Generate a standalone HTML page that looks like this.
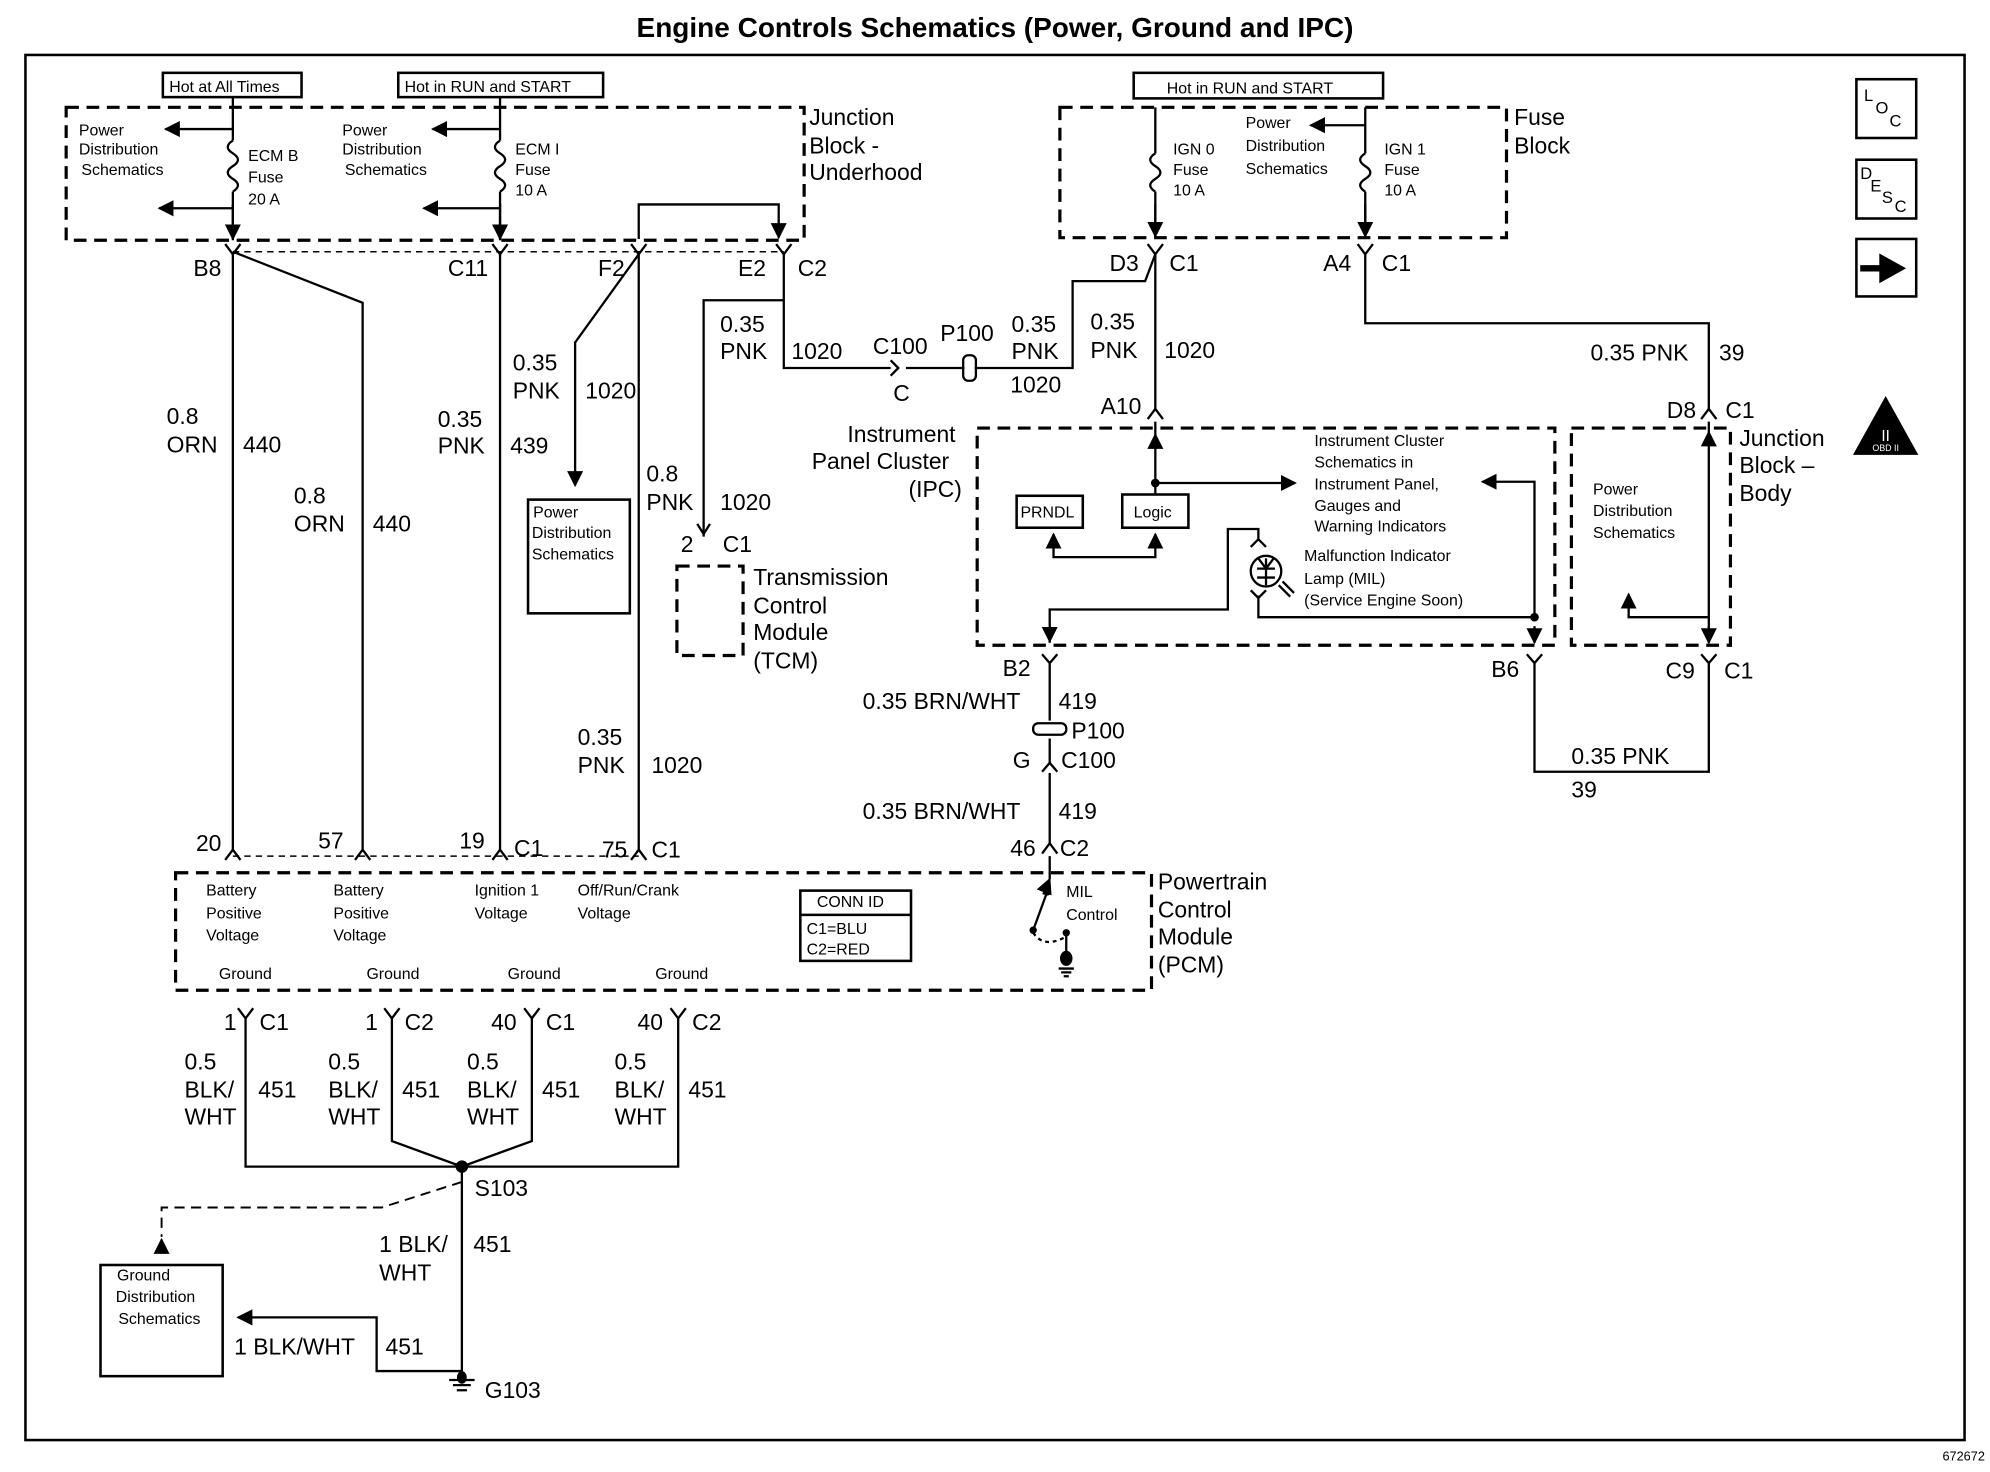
<!DOCTYPE html>
<html><head><meta charset="utf-8"><style>
html,body{margin:0;padding:0;background:#fff}
svg{display:block}
text{font-family:"Liberation Sans",sans-serif;fill:#000}
.b{font-size:18px}
.s{font-size:12.5px}
.t{font-size:13.5px}
</style></head><body>
<svg width="1990" height="1472" viewBox="0 0 1564 1152" preserveAspectRatio="none" xmlns="http://www.w3.org/2000/svg">
<defs>
<marker id="ar" viewBox="0 0 10 10" refX="9" refY="5" markerWidth="7" markerHeight="7" orient="auto-start-reverse"><path d="M0,0 L10,5 L0,10 z" fill="#000"/></marker>
</defs>
<rect width="1564" height="1152" fill="#fff"/>
<text x="782" y="29" text-anchor="middle" font-size="22" font-weight="bold">Engine Controls Schematics (Power, Ground and IPC)</text>
<rect x="20" y="43" width="1524" height="1084" fill="none" stroke="#000" stroke-width="2"/>
<text x="1560" y="1143" text-anchor="end" font-size="10">672672</text>

<g fill="none" stroke="#000" stroke-width="2.5" stroke-dasharray="10,6">
<rect x="52" y="84" width="580" height="104"/>
<rect x="833" y="84" width="351" height="102"/>
<rect x="768" y="335" width="454" height="170"/>
<rect x="1235" y="335" width="125" height="170"/>
<rect x="138" y="683" width="767" height="92"/>
<rect x="532" y="443" width="52" height="70"/>
<path d="M183,197 L616,197" stroke-width="1.2" stroke-dasharray="5,4"/>
<path d="M183,670 L502,670" stroke-width="1.2" stroke-dasharray="5,4"/>
<path d="M363,925 L300,945 L127,945 L127,968" stroke-width="1.5" stroke-dasharray="8,5"/>
</g>

<g fill="none" stroke="#000" stroke-width="2">
<rect x="128" y="57" width="109" height="19"/>
<rect x="313" y="57" width="161" height="19"/>
<rect x="891" y="57" width="196" height="20"/>
<rect x="415" y="391" width="80" height="89"/>
<rect x="79" y="990" width="96" height="87"/>
<rect x="799" y="388" width="52" height="25"/>
<rect x="882" y="387" width="52" height="26"/>
<rect x="629" y="697" width="87" height="55"/>
<path d="M629,716 L716,716"/>
<rect x="1459" y="62" width="47" height="46"/>
<rect x="1459" y="125" width="47" height="46"/>
<rect x="1459" y="187" width="47" height="45"/>
</g>

<!-- wires -->
<g fill="none" stroke="#000" stroke-width="1.8">
<!-- underhood fuses -->
<path d="M183,76 L183,110 M183,150 L183,188"/>
<path d="M183,110 q-8,5 0,10 q8,5 0,10 q-8,5 0,10 q8,5 0,10"/>
<path d="M183,101 L130,101" marker-end="url(#ar)"/>
<path d="M183,163 L125,163" marker-end="url(#ar)"/>
<path d="M393,76 L393,110 M393,150 L393,188"/>
<path d="M393,110 q-8,5 0,10 q8,5 0,10 q-8,5 0,10 q8,5 0,10"/>
<path d="M393,101 L340,101" marker-end="url(#ar)"/>
<path d="M393,163 L333,163" marker-end="url(#ar)"/>
<path d="M183,160 L183,187" marker-end="url(#ar)"/>
<path d="M393,160 L393,187" marker-end="url(#ar)"/>
<path d="M502,187 L502,160 L612,160 L612,186" marker-end="url(#ar)"/>
<!-- fuse block -->
<path d="M908,84 L908,120 M908,150 L908,185 M1073,84 L1073,120 M1073,150 L1073,185"/>
<path d="M908,120 q-8,5 0,10 q8,5 0,10 q-8,5 0,10"/>
<path d="M1073,120 q-8,5 0,10 q8,5 0,10 q-8,5 0,10"/>
<path d="M908,160 L908,185" marker-end="url(#ar)"/>
<path d="M1073,160 L1073,185" marker-end="url(#ar)"/>
<path d="M1073,98 L1030,98" marker-end="url(#ar)"/>
<!-- connector chevrons row -->
<path d="M177,191 L183,199 L189,191 M387,191 L393,199 L399,191 M496,191 L502,199 L508,191 M610,191 L616,199 L622,191 M902,191 L908,199 L914,191 M1067,191 L1073,199 L1079,191"/>
<!-- B8 wires -->
<path d="M183,199 L183,665 M183,197 L285,237 L285,665"/>
<path d="M393,199 L393,665"/>
<path d="M502,199 L502,665"/>
<path d="M502,199 L452,268 L452,380" marker-end="url(#ar)"/>
<path d="M616,199 L616,288 L700,288"/>
<path d="M553,420 L553,235 L616,235"/>
<path d="M548,410 L553,418 L558,410"/>
<!-- C100 P100 -->
<path d="M700,282 L706,288 L700,294"/>
<path d="M712,288 L758,288 M766,288 L843,288 L843,220 L900,220 L908,199"/>
<rect x="757" y="278" width="10" height="20" rx="4"/>
<path d="M908,199 L908,320"/>
<path d="M902,328 L908,320 L914,328 M908,330 L908,345"/>
<path d="M1073,199 L1073,253 L1343,253 L1343,320"/>
<path d="M1337,328 L1343,320 L1349,328"/>
<!-- IPC internals -->
<path d="M908,340 L908,387" marker-start="url(#ar)"/>
<path d="M908,378 L1018,378" marker-end="url(#ar)"/>
<circle cx="908" cy="378" r="2.5" fill="#000"/>
<path d="M828,418 L828,436 L908,436 L908,418" marker-start="url(#ar)" marker-end="url(#ar)"/>
<path d="M1206,483 L1206,377 L1165,377" marker-end="url(#ar)"/>
<path d="M825,503 L825,477 L965,477 L965,414 L989,414 L989,423"/>
<path d="M825,490 L825,502" marker-end="url(#ar)"/>
<path d="M983,428 L989,422 L995,428"/>
<circle cx="995" cy="447" r="12"/>
<path d="M995,437 L995,458 M988,445 L1002,445 M989,437 L995,445 L1001,437 M988,452 L1002,452"/>
<path d="M989,466 L989,483 L1206,483 M983,462 L989,468 L995,462"/>
<path d="M1005,458 L1014,467 M1008,455 L1017,464"/>
<circle cx="1206" cy="483" r="2.5" fill="#000"/>
<path d="M1206,490 L1206,503" marker-end="url(#ar)"/>
<path d="M1343,330 L1343,503"/>
<path d="M1343,345 L1343,338" marker-end="url(#ar)"/>
<path d="M1343,490 L1343,503" marker-end="url(#ar)"/>
<path d="M1343,483 L1280,483 L1280,465" marker-end="url(#ar)"/>
<!-- B2, B6, C9 -->
<path d="M819,512 L825,519 L831,512 M1200,512 L1206,519 L1212,512 M1337,512 L1343,519 L1349,512"/>
<path d="M825,519 L825,564 M825,578 L825,598 M825,605 L825,660"/>
<rect x="812" y="566" width="26" height="9" rx="4"/>
<path d="M819,604 L825,597 L831,604"/>
<path d="M819,668 L825,660 L831,668 M825,670 L825,688"/>
<path d="M1206,519 L1206,604 L1343,604 L1343,519"/>
<!-- PCM top pins -->
<path d="M177,673 L183,665 L189,673 M279,673 L285,665 L291,673 M387,673 L393,665 L399,673 M496,673 L502,665 L508,673"/>
<!-- MIL control -->
<path d="M825,688 L820,700" marker-start="url(#ar)"/>
<path d="M823,698 L812,728"/>
<circle cx="823" cy="698" r="2" fill="#000"/>
<circle cx="812" cy="728" r="2" fill="#000"/>
<path d="M812,730 q8,12 24,4" stroke-dasharray="3,3"/>
<path d="M838,730 L838,755"/>
<circle cx="838" cy="730" r="2" fill="#000"/>
<ellipse cx="838" cy="750" rx="4" ry="5" fill="#000"/>
<path d="M832,758 L844,758 M834,761 L842,761 M836,764 L840,764"/>
<!-- ground pins -->
<path d="M187,789 L193,797 L199,789 M302,789 L308,797 L314,789 M412,789 L418,797 L424,789 M527,789 L533,797 L539,789"/>
<path d="M193,797 L193,913 L533,913 L533,797"/>
<path d="M308,797 L308,893 L363,913 L418,893 L418,797"/>
<circle cx="363" cy="913" r="4" fill="#000"/>
<path d="M363,913 L363,1080"/>
<path d="M353,1080 L373,1080 M356,1084 L370,1084 M359,1088 L367,1088"/>
<ellipse cx="363" cy="1078" rx="3" ry="4" fill="#000"/>
<path d="M363,1073 L296,1073 L296,1031 L187,1031" marker-end="url(#ar)"/>
<path d="M127,978 L127,970" marker-end="url(#ar)"/>
</g>
<g stroke="#000" stroke-width="2"><path d="M1462,210 L1480,210" stroke-width="5"/><path d="M1478,200 L1496,210 L1478,220 z" fill="#000"/>
<path d="M1482,312 L1506,355 L1458,355 z" fill="#000"/></g>
<text x="1482" y="345" font-size="12" text-anchor="middle" style="fill:#fff">II</text>
<text x="1482" y="353" font-size="7" text-anchor="middle" style="fill:#fff">OBD II</text>
<text x="1465" y="79" font-size="13">L</text><text x="1474" y="89" font-size="13">O</text><text x="1485" y="99" font-size="13">C</text>
<text x="1462" y="140" font-size="13">D</text><text x="1470" y="150" font-size="13">E</text><text x="1479" y="159" font-size="13">S</text><text x="1489" y="166" font-size="13">C</text>

<!-- small labels -->
<g class="s">
<text x="133" y="72">Hot at All Times</text>
<text x="318" y="72">Hot in RUN and START</text>
<text x="917" y="73">Hot in RUN and START</text>
<text x="62" y="106">Power</text><text x="62" y="121">Distribution</text><text x="64" y="137">Schematics</text>
<text x="195" y="126">ECM B</text><text x="195" y="143">Fuse</text><text x="195" y="160">20 A</text>
<text x="269" y="106">Power</text><text x="269" y="121">Distribution</text><text x="271" y="137">Schematics</text>
<text x="405" y="121">ECM I</text><text x="405" y="137">Fuse</text><text x="405" y="153">10 A</text>
<text x="922" y="121">IGN 0</text><text x="922" y="137">Fuse</text><text x="922" y="153">10 A</text>
<text x="979" y="100">Power</text><text x="979" y="118">Distribution</text><text x="979" y="136">Schematics</text>
<text x="1088" y="121">IGN 1</text><text x="1088" y="137">Fuse</text><text x="1088" y="153">10 A</text>
<text x="419" y="405">Power</text><text x="418" y="421">Distribution</text><text x="418" y="438">Schematics</text>
<text x="802" y="405">PRNDL</text><text x="891" y="405">Logic</text>
<text x="1033" y="349">Instrument Cluster</text><text x="1033" y="366">Schematics in</text><text x="1033" y="383">Instrument Panel,</text><text x="1033" y="400">Gauges and</text><text x="1033" y="416">Warning Indicators</text>
<text x="1025" y="439">Malfunction Indicator</text><text x="1025" y="457">Lamp (MIL)</text><text x="1025" y="474">(Service Engine Soon)</text>
<text x="1252" y="387">Power</text><text x="1252" y="404">Distribution</text><text x="1252" y="421">Schematics</text>
<text x="162" y="701">Battery</text><text x="162" y="719">Positive</text><text x="162" y="736">Voltage</text>
<text x="262" y="701">Battery</text><text x="262" y="719">Positive</text><text x="262" y="736">Voltage</text>
<text x="373" y="701">Ignition 1</text><text x="373" y="719">Voltage</text>
<text x="454" y="701">Off/Run/Crank</text><text x="454" y="719">Voltage</text>
<text x="642" y="710">CONN ID</text><text x="634" y="731">C1=BLU</text><text x="634" y="747">C2=RED</text>
<text x="838" y="702">MIL</text><text x="838" y="720">Control</text>
<text x="172" y="766">Ground</text><text x="288" y="766">Ground</text><text x="399" y="766">Ground</text><text x="515" y="766">Ground</text>
<text x="92" y="1002">Ground</text><text x="91" y="1019">Distribution</text><text x="93" y="1036">Schematics</text>
</g>

<!-- big labels -->
<g class="b">
<text x="636" y="98">Junction</text><text x="636" y="120">Block -</text><text x="636" y="141">Underhood</text>
<text x="1190" y="98">Fuse</text><text x="1190" y="120">Block</text>
<text x="152" y="216">B8</text><text x="352" y="216">C11</text><text x="470" y="216">F2</text><text x="580" y="216">E2</text><text x="627" y="216">C2</text>
<text x="872" y="212">D3</text><text x="919" y="212">C1</text><text x="1040" y="212">A4</text><text x="1086" y="212">C1</text>
<text x="131" y="332">0.8</text><text x="131" y="354">ORN</text><text x="191" y="354">440</text>
<text x="231" y="394">0.8</text><text x="231" y="416">ORN</text><text x="293" y="416">440</text>
<text x="344" y="334">0.35</text><text x="344" y="355">PNK</text><text x="401" y="355">439</text>
<text x="403" y="290">0.35</text><text x="403" y="312">PNK</text><text x="460" y="312">1020</text>
<text x="508" y="377">0.8</text><text x="508" y="399">PNK</text><text x="566" y="399">1020</text>
<text x="566" y="260">0.35</text><text x="566" y="281">PNK</text><text x="622" y="281">1020</text>
<text x="686" y="277">C100</text><text x="702" y="314">C</text><text x="739" y="267">P100</text>
<text x="795" y="260">0.35</text><text x="795" y="281">PNK</text><text x="794" y="307">1020</text>
<text x="857" y="258">0.35</text><text x="857" y="280">PNK</text><text x="915" y="280">1020</text>
<text x="1250" y="282">0.35 PNK</text><text x="1351" y="282">39</text>
<text x="865" y="324">A10</text><text x="1310" y="327">D8</text><text x="1356" y="327">C1</text>
<text x="666" y="346">Instrument</text><text x="638" y="367">Panel Cluster</text><text x="714" y="389">(IPC)</text>
<text x="1367" y="349">Junction</text><text x="1367" y="370">Block –</text><text x="1367" y="392">Body</text>
<text x="535" y="432">2</text><text x="568" y="432">C1</text>
<text x="592" y="458">Transmission</text><text x="592" y="480">Control</text><text x="592" y="501">Module</text><text x="592" y="523">(TCM)</text>
<text x="788" y="529">B2</text><text x="1172" y="530">B6</text><text x="1309" y="531">C9</text><text x="1355" y="531">C1</text>
<text x="678" y="555">0.35 BRN/WHT</text><text x="832" y="555">419</text>
<text x="842" y="578">P100</text><text x="796" y="601">G</text><text x="834" y="601">C100</text>
<text x="1235" y="598">0.35 PNK</text><text x="1235" y="624">39</text>
<text x="454" y="583">0.35</text><text x="454" y="605">PNK</text><text x="512" y="605">1020</text>
<text x="678" y="641">0.35 BRN/WHT</text><text x="832" y="641">419</text>
<text x="154" y="666">20</text><text x="250" y="664">57</text><text x="361" y="664">19</text><text x="404" y="670">C1</text><text x="473" y="671">75</text><text x="512" y="671">C1</text>
<text x="794" y="670">46</text><text x="833" y="670">C2</text>
<text x="910" y="696">Powertrain</text><text x="910" y="718">Control</text><text x="910" y="739">Module</text><text x="910" y="761">(PCM)</text>
<text x="176" y="806">1</text><text x="204" y="806">C1</text><text x="287" y="806">1</text><text x="318" y="806">C2</text><text x="386" y="806">40</text><text x="429" y="806">C1</text><text x="501" y="806">40</text><text x="544" y="806">C2</text>
<text x="145" y="837">0.5</text><text x="145" y="859">BLK/</text><text x="145" y="880">WHT</text><text x="203" y="859">451</text>
<text x="258" y="837">0.5</text><text x="258" y="859">BLK/</text><text x="258" y="880">WHT</text><text x="316" y="859">451</text>
<text x="367" y="837">0.5</text><text x="367" y="859">BLK/</text><text x="367" y="880">WHT</text><text x="426" y="859">451</text>
<text x="483" y="837">0.5</text><text x="483" y="859">BLK/</text><text x="483" y="880">WHT</text><text x="541" y="859">451</text>
<text x="373" y="936">S103</text>
<text x="298" y="980">1 BLK/</text><text x="298" y="1002">WHT</text><text x="372" y="980">451</text>
<text x="184" y="1060">1 BLK/WHT</text><text x="303" y="1060">451</text>
<text x="381" y="1094">G103</text>
</g>
</svg>
</body></html>
